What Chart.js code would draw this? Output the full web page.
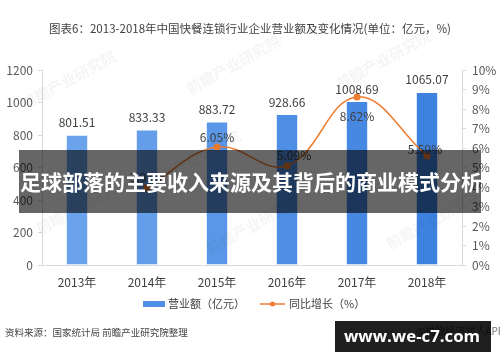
<!DOCTYPE html>
<html>
<head>
<meta charset="utf-8">
<script src="https://cdn.jsdelivr.net/npm/chart.js"></script>
<style>
  html, body { margin: 0; padding: 0; background: #fff; }
  #wrap { width: 500px; height: 362px; position: relative; }
</style>
</head>
<body>
<div id="wrap"><canvas id="chart" width="500" height="362"></canvas></div>
<script>
// Chart data
const years = ['2013年', '2014年', '2015年', '2016年', '2017年', '2018年'];
const revenue = [801.51, 833.33, 883.72, 928.66, 1008.69, 1065.07];
const growth = [null, 3.97, 6.05, 5.09, 8.62, 5.59];
const leftTicks = [0, 200, 400, 600, 800, 1000, 1200];
const rightTicks = [0, 1, 2, 3, 4, 5, 6, 7, 8, 9, 10];

const titleText = '图表6：2013-2018年中国快餐连锁行业企业营业额及变化情况(单位：亿元，%)';
const bannerText = '足球部落的主要收入来源及其背后的商业模式分析';
const sourceText = '资料来源：国家统计局 前瞻产业研究院整理';
const seriesNames = ['营业额（亿元）', '同比增长（%）'];

const CJK = '"Noto Sans CJK SC", "Noto Sans", sans-serif';
const barColors = ['#6AA3EC', '#649EEA', '#5B97E8', '#4F8EE5', '#4788E3', '#3E82E0'];
const orange = '#ED7D31';

// label offsets for the growth line (px, relative to point)
const growthLabelDy = [0, -10, -10, -10, 20, -7];
const growthLabelDx = [0, 0, 0, 7, 0, -2];

const extras = {
    id: 'extras',
    afterDatasetsDraw(chart) {
        const ctx = chart.ctx;
        const barMeta = chart.getDatasetMeta(1);
        const lineMeta = chart.getDatasetMeta(0);

        ctx.save();
        ctx.textAlign = 'center';
        ctx.textBaseline = 'middle';
        ctx.fillStyle = '#404040';
        ctx.font = '12px ' + CJK;
        barMeta.data.forEach((bar, i) => {
            ctx.fillText(revenue[i].toFixed(2), bar.x, bar.y - 12);
        });
        lineMeta.data.forEach((pt, i) => {
            if (growth[i] === null) return;
            ctx.fillText(growth[i].toFixed(2) + '%', pt.x + growthLabelDx[i], pt.y + growthLabelDy[i]);
        });
        ctx.restore();
    },
    afterDraw(chart) {
        const ctx = chart.ctx;
        ctx.save();

        // faint watermarks
        ctx.fillStyle = 'rgba(0,0,0,0.045)';
        ctx.font = 'bold 15px ' + CJK;
        [[25, 110], [190, 95], [340, 90], [40, 235], [210, 255], [390, 250], [150, 190]].forEach(p => {
            ctx.save();
            ctx.translate(p[0], p[1]);
            ctx.rotate(-0.5);
            ctx.fillText('前瞻产业研究院', 0, 0);
            ctx.restore();
        });

        // title
        ctx.fillStyle = '#404040';
        ctx.font = '11.5px ' + CJK;
        ctx.textAlign = 'center';
        ctx.textBaseline = 'middle';
        ctx.fillText(titleText, 250, 29);

        // legend
        ctx.fillStyle = barColors[3];
        ctx.fillRect(143, 301, 22, 6);
        ctx.fillStyle = '#404040';
        ctx.textAlign = 'left';
        ctx.font = '11px ' + CJK;
        ctx.fillText(seriesNames[0], 168, 304);
        ctx.strokeStyle = orange;
        ctx.lineWidth = 1.5;
        ctx.beginPath();
        ctx.moveTo(260, 304);
        ctx.lineTo(285, 304);
        ctx.stroke();
        ctx.fillStyle = orange;
        ctx.beginPath();
        ctx.arc(272.5, 304, 2.5, 0, Math.PI * 2);
        ctx.fill();
        ctx.fillStyle = '#404040';
        ctx.fillText(seriesNames[1], 289, 304);

        // source
        ctx.fillStyle = '#444';
        ctx.font = '9.5px ' + CJK;
        ctx.fillText(sourceText, 5, 332);
        ctx.fillStyle = '#777';
        ctx.font = '10px ' + CJK;
        ctx.fillText('@前瞻经济学人APP', 416, 331);

        // overlay banner
        ctx.fillStyle = 'rgba(0,0,0,0.6)';
        ctx.fillRect(19, 150, 462, 63);
        ctx.fillStyle = '#fff';
        ctx.font = 'bold 21px ' + CJK;
        ctx.textAlign = 'left';
        ctx.fillText(bannerText, 20, 182);

        // site box
        ctx.fillStyle = 'rgba(0,0,0,0.88)';
        ctx.fillRect(335, 321, 156, 31);
        ctx.fillStyle = '#fff';
        let fs = 20;
        ctx.font = 'bold ' + fs + 'px "Open Sans", sans-serif';
        const w = ctx.measureText('www.we-c7.com').width;
        fs = fs * 136 / w;
        ctx.font = 'bold ' + fs.toFixed(1) + 'px "Open Sans", sans-serif';
        ctx.textAlign = 'center';
        ctx.fillText('www.we-c7.com', 412, 337);

        ctx.restore();
    }
};

new Chart(document.getElementById('chart'), {
    data: {
        labels: years,
        datasets: [
            {
                type: 'line',
                label: seriesNames[1],
                data: growth,
                yAxisID: 'y1',
                borderColor: orange,
                backgroundColor: orange,
                borderWidth: 1.5,
                pointRadius: 3.5,
                pointBackgroundColor: orange,
                pointBorderWidth: 0,
                tension: 0.4,
                spanGaps: false
            },
            {
                type: 'bar',
                label: seriesNames[0],
                data: revenue,
                yAxisID: 'y',
                backgroundColor: barColors,
                borderColor: 'rgba(255,255,255,0.35)',
                borderWidth: 1,
                barPercentage: 0.32,
                categoryPercentage: 1
            }
        ]
    },
    options: {
        responsive: false,
        animation: false,
        layout: { padding: { top: 70, left: 0, right: 0, bottom: 0 } },
        plugins: {
            legend: { display: false },
            tooltip: { enabled: false }
        },
        scales: {
            x: {
                grid: { display: false, drawTicks: false },
                border: { color: '#d9d9d9' },
                ticks: { color: '#404040', font: { size: 12, family: CJK }, padding: 10, maxRotation: 0 },
                afterFit: s => { s.height = 97; }
            },
            y: {
                position: 'left',
                min: 0, max: 1200,
                afterBuildTicks: s => { s.ticks = leftTicks.map(v => ({ value: v })); },
                grid: { drawOnChartArea: false, tickLength: 4, color: '#d9d9d9' },
                border: { color: '#d9d9d9' },
                ticks: { color: '#595959', font: { size: 12, family: CJK }, padding: 5, callback: v => String(v) },
                afterFit: s => { s.width = 42; }
            },
            y1: {
                position: 'right',
                min: 0, max: 10,
                afterBuildTicks: s => { s.ticks = rightTicks.map(v => ({ value: v })); },
                grid: { drawOnChartArea: false, tickLength: 4, color: '#d9d9d9' },
                border: { color: '#d9d9d9' },
                ticks: { color: '#595959', font: { size: 12, family: CJK }, padding: 6, callback: v => v + '%' },
                afterFit: s => { s.width = 38; }
            }
        }
    },
    plugins: [extras]
});
</script>
</body>
</html>
